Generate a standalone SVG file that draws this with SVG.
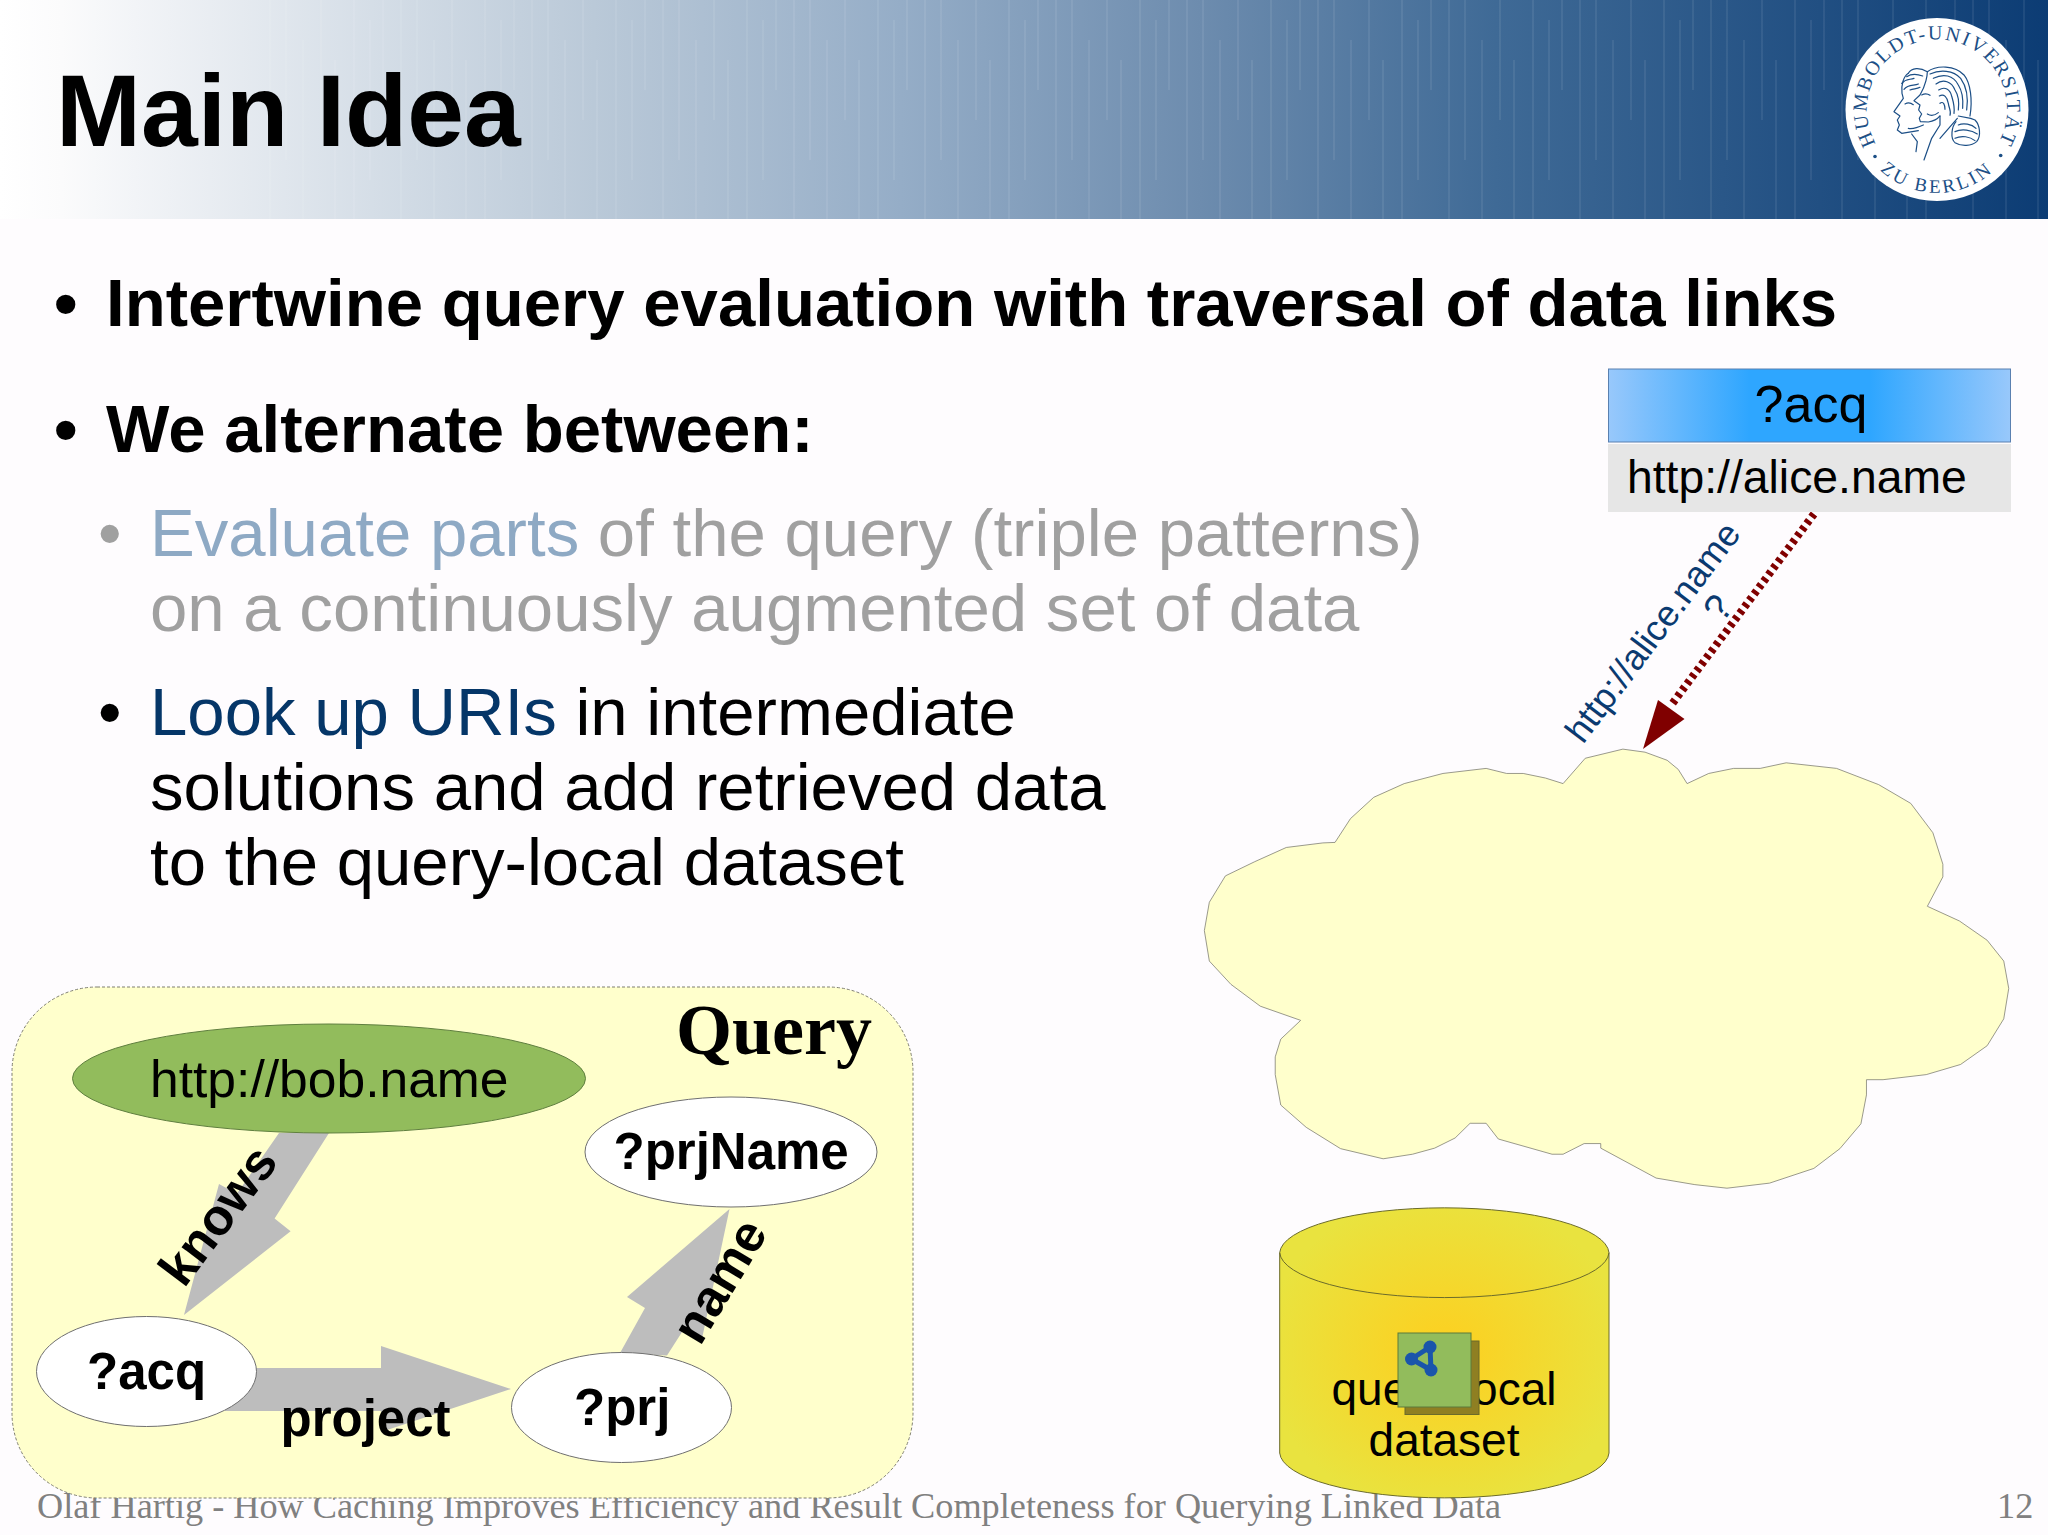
<svg xmlns="http://www.w3.org/2000/svg" width="2048" height="1535" viewBox="0 0 2048 1535">
<style>
text{font-family:"Liberation Sans",Arial,sans-serif}
.b{font-weight:bold;fill:#000}
.h1{font-size:67.15px}
.serif{font-family:"Liberation Serif","Times New Roman",serif}
.foot{font-size:36.25px;fill:#808080}
.arrow{fill:#bdbdbd}
.node{fill:#fff;stroke:#6f6f6f;stroke-width:1}
.lbl{font-size:51px;font-weight:bold;fill:#000}
.seal{fill:#1c4f86;font-family:"Liberation Serif",serif}
.por path{fill:none;stroke:#1c4f86;stroke-width:3.6;stroke-linecap:round;stroke-linejoin:round}
</style>
<defs>
<linearGradient id="hdr" x1="0" x2="1" y1="0" y2="0">
<stop offset="0" stop-color="#ffffff"/><stop offset=".03" stop-color="#fbfbfc"/><stop offset=".29" stop-color="#bac9d8"/><stop offset=".44" stop-color="#95adc7"/><stop offset=".586" stop-color="#6d8cae"/><stop offset=".73" stop-color="#3f6a96"/><stop offset="1" stop-color="#0c3c74"/>
</linearGradient>
<pattern id="stripes" width="131" height="219" patternUnits="userSpaceOnUse">
<path d="M8 0V219M24 0V160M41 40V219M59 0V120M73 60V219M92 0V219M108 20V180M121 0V90" stroke="#fff" stroke-opacity=".09" stroke-width="1.5" fill="none"/>
</pattern>
<linearGradient id="th" x1="0" x2="1" y1="0" y2="0">
<stop offset="0" stop-color="#98c8fb"/><stop offset=".35" stop-color="#2ea6ff"/><stop offset=".65" stop-color="#2ea6ff"/><stop offset="1" stop-color="#98c8fb"/>
</linearGradient>
<radialGradient id="cyl" cx=".5" cy=".5" r=".55">
<stop offset="0" stop-color="#fdcf1f"/><stop offset="1" stop-color="#e9e33f"/>
</radialGradient>
<path id="sealTop" d="M1874.9 141.8A70 70 0 1 1 1999.1 141.8"/>
<path id="sealBot" d="M1871.6 161A83 83 0 0 0 2002.4 161"/>
</defs>
<rect id="background" width="2048" height="1535" fill="#fefcfe"/>
<g id="header">
<rect width="2048" height="219" fill="url(#hdr)"/>
<rect x="260" width="1788" height="219" fill="url(#stripes)"/>
<text x="56" y="146" class="b" font-size="102">Main Idea</text>
</g>
<g id="logo">
<circle cx="1937" cy="109.5" r="91.5" fill="#fff"/>
<text class="seal" font-size="20" letter-spacing="2" text-anchor="middle"><textPath href="#sealTop" startOffset="50%">HUMBOLDT-UNIVERSITÄT</textPath></text>
<text class="seal" font-size="19" letter-spacing="3" text-anchor="middle"><textPath href="#sealBot" startOffset="50%">ZU BERLIN</textPath></text>
<circle cx="1875" cy="156.5" r="1.8" fill="#1c4f86"/>
<circle cx="2000.7" cy="155.5" r="1.8" fill="#1c4f86"/>
<g class="por" transform="translate(1840 10) scale(.3333)">
<path d="M205 190C190 200 183 225 186 250L190 265L162 305L180 318L172 330L178 345L172 360L185 370L235 362"/>
<path d="M205 190C215 172 240 172 262 185C262 195 258 225 240 255L222 272L240 285L236 300L245 312L238 325L241 335L265 336C280 334 292 328 300 318"/>
<path d="M300 318V345L275 385L252 450M215 372L232 395L228 425M352 325L300 385"/>
<path d="M262 185C290 165 345 165 372 195C392 220 398 270 390 318"/>
<path d="M270 192C300 178 340 180 362 205C380 230 385 265 380 300M280 205C310 190 340 195 355 225C368 245 370 270 368 295M288 222C310 205 335 215 345 240C355 255 358 275 355 300"/>
<path d="M296 240C315 228 330 238 335 258C340 275 345 290 342 310M298 258C312 250 322 262 325 280C327 295 335 305 330 316M300 280C310 272 315 285 315 298"/>
<path d="M185 220C198 205 210 210 222 205M192 238C205 222 222 228 235 222M200 200C215 190 232 192 248 198M210 240C220 235 230 238 240 232"/>
<path d="M355 318L392 325M348 335C335 350 330 385 345 398C365 410 395 408 410 395C424 378 420 345 405 330L392 325"/>
<path d="M355 345C370 338 395 342 408 355M345 365C365 355 395 360 412 372M345 385C365 375 390 380 405 392"/>
<path d="M195 282C205 276 212 278 220 284M245 255C254 250 262 250 270 256M205 355C220 358 235 352 250 345M262 312C272 318 285 316 295 308"/>
</g>
</g>
<g id="body-text">
<text x="54" y="326" class="b h1">•</text>
<text x="106" y="326" class="b h1">Intertwine query evaluation with traversal of data links</text>
<text x="54" y="452" class="b h1">•</text>
<text x="106" y="452" class="b h1">We alternate between:</text>
<text x="98" y="556" class="h1" fill="#a0a0a0">•</text>
<text x="150" y="556" class="h1" fill="#a0a0a0"><tspan fill="#8ea9c4">Evaluate parts</tspan> of the query (triple patterns)</text>
<text x="150" y="631" class="h1" fill="#a0a0a0">on a continuously augmented set of data</text>
<text x="98" y="735" class="h1" fill="#000">•</text>
<text x="150" y="735" class="h1" fill="#000"><tspan fill="#053668">Look up URIs</tspan> in intermediate</text>
<text x="150" y="810" class="h1" fill="#000">solutions and add retrieved data</text>
<text x="150" y="885" class="h1" fill="#000">to the query-local dataset</text>
</g>
<g id="footer">
<text x="37" y="1518" class="serif foot">Olaf Hartig - How Caching Improves Efficiency and Result Completeness for Querying Linked Data</text>
<text x="1997" y="1518" class="serif foot">12</text>
</g>
<g id="query-panel">
<rect x="12" y="987" width="901" height="511" rx="85" ry="85" fill="#ffffcc" stroke="#7f7f70" stroke-width="1" stroke-dasharray="3 2"/>
<text x="676" y="1054" class="serif" font-size="72" font-weight="bold" fill="#000">Query</text>
</g>
<g id="connectors">
<polygon class="arrow" points="279,1133 329,1133 274.6,1218.6 290.6,1231.3 184,1315 219,1184 236.8,1193.8"/>
<polygon class="arrow" points="225,1368 381,1368 381,1346 511,1389 381,1432 381,1411 225,1411"/>
<polygon class="arrow" points="620,1353 645,1308 627,1297 729.5,1209 701.5,1341 683,1330.6 667,1355.6"/>
<path d="M1814 514L1672 704" fill="none" stroke="#800000" stroke-width="8" stroke-dasharray="4 4"/>
<polygon points="1643,749 1658,700 1684.5,719" fill="#800000"/>
</g>
<g id="node-bob">
<ellipse cx="329" cy="1078.5" rx="256.5" ry="54.5" fill="#92bc5c" stroke="#5f7f3f"/>
<text x="150" y="1097" font-size="51.6" fill="#000">http://bob.name</text>
</g>
<g id="node-prjName">
<ellipse class="node" cx="731" cy="1152" rx="146" ry="55"/>
<text x="613.5" y="1169" class="lbl">?prjName</text>
</g>
<g id="node-acq">
<ellipse class="node" cx="146.5" cy="1371.5" rx="110" ry="55"/>
<text x="87" y="1389" class="lbl">?acq</text>
</g>
<g id="node-prj">
<ellipse class="node" cx="621.5" cy="1407.5" rx="110" ry="55"/>
<text x="574" y="1425" class="lbl">?prj</text>
</g>
<g id="edge-labels">
<text class="lbl" transform="translate(184 1289) rotate(-53)">knows</text>
<text x="280.5" y="1436" class="lbl">project</text>
<text class="lbl" transform="translate(700 1347) rotate(-59)">name</text>
<text font-size="36" fill="#0b3a70" transform="translate(1583 745) rotate(-53)">http://alice.name</text>
<text font-size="38" fill="#0b3a70" transform="translate(1722 624) rotate(-53)">?</text>
</g>
<g id="node-table">
<rect x="1608.5" y="369" width="402" height="73" fill="url(#th)" stroke="#5a80b0" stroke-width="1"/>
<rect x="1608" y="444" width="403" height="68" fill="#e6e6e6"/>
<text x="1811" y="422" font-size="52" text-anchor="middle" fill="#000">?acq</text>
<text x="1627" y="493" font-size="46.3" fill="#000">http://alice.name</text>
</g>
<g id="node-cloud">
<polygon transform="translate(1180 740) scale(.5536 .507)" fill="#ffffcc" stroke="#77776a" stroke-width="1.4" points="692,86 732,36 800,18 840,24 880,40 900,58 916,86 955,66 1000,56 1048,56 1095,45 1186,56 1262,88 1320,125 1360,183 1378,245 1378,270 1350,328 1408,357 1458,395 1488,436 1497,490 1488,550 1458,603 1410,640 1348,660 1270,670 1240,670 1240,700 1230,757 1192,806 1145,845 1065,874 988,884 930,877 860,864 760,805 760,796 730,796 692,817 672,817 575,787 553,756 524,756 497,785 460,805 420,817 367,826 290,806 228,764 182,720 172,660 172,625 182,590 218,553 145,525 92,482 53,436 44,376 53,320 82,268 135,240 192,212 258,203 280,202 308,155 350,113 405,86 475,66 553,56 590,66 620,66 660,75"/>
</g>
<g id="node-dataset">
<path d="M1279.7 1252.7V1453A164.7 46 0 0 0 1609 1453V1252.7A164.7 46 0 0 0 1279.7 1252.7Z" fill="url(#cyl)" stroke="#6b6b2b" stroke-width="1"/>
<path d="M1279.7 1252.7A164.7 46 0 0 0 1609 1252.7" fill="none" stroke="#6b6b2b" stroke-width="1"/>
<text x="1444" y="1405" font-size="46" text-anchor="middle" fill="#000">query-local</text>
<text x="1444" y="1456" font-size="46" text-anchor="middle" fill="#000">dataset</text>
<rect x="1405" y="1341" width="74" height="73.5" fill="#8f7f22" stroke="#6b6b2b"/>
<rect x="1398" y="1333" width="73" height="74" fill="#92bc5c" stroke="#5c7a3a"/>
<path d="M1430 1347L1411.5 1359L1431 1370Z" fill="none" stroke="#1a55ab" stroke-width="5"/>
<circle cx="1430" cy="1347" r="6.5" fill="#1a55ab"/>
<circle cx="1411.5" cy="1359" r="6.5" fill="#1a55ab"/>
<circle cx="1431" cy="1370" r="6.5" fill="#1a55ab"/>
</g>
</svg>
